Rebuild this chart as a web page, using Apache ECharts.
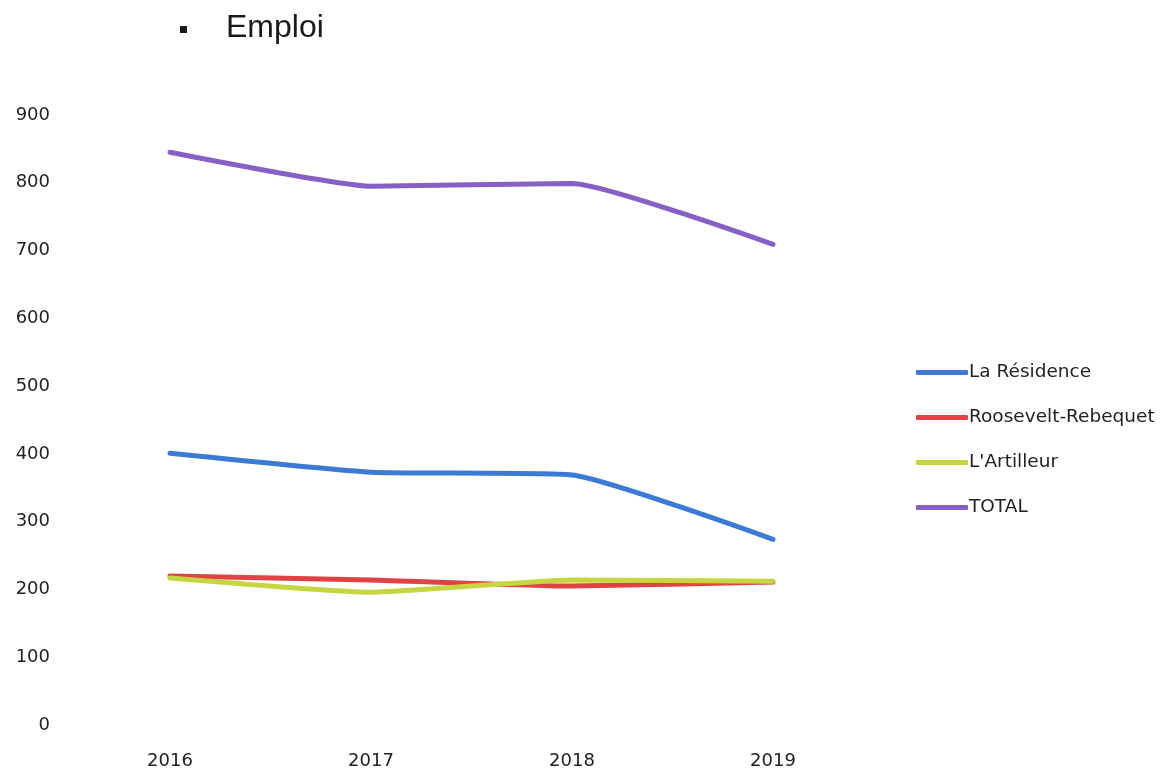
<!DOCTYPE html>
<html><head><meta charset="utf-8">
<script src="https://cdn.jsdelivr.net/npm/echarts@6/dist/echarts.min.js"></script>
<style>html,body{margin:0;padding:0;background:#fff}#c{width:1173px;height:770px}</style>
</head><body><div id="c"></div>
<script>
const years = ['2016','2017','2018','2019'];
const laResidence = [401, 373, 369, 274];
const roosevelt = [220, 214, 205, 211];
const artilleur = [217, 196, 214, 212];
const total = [845, 795, 799, 709];
const yTicks = [0, 100, 200, 300, 400, 500, 600, 700, 800, 900];

const font = '"DejaVu Sans", sans-serif';
const mk = (name, data, color) => ({
  name, type: 'line', data, smooth: 0.15, symbol: 'none',
  lineStyle: { width: 5, color, cap: 'round' }, itemStyle: { color }
});
const chart = echarts.init(document.getElementById('c'));
chart.setOption({
  animation: false,
  graphic: [
    { type: 'rect', left: 180, top: 26, shape: { width: 7, height: 7 }, style: { fill: '#1a1a1a' } },
    { type: 'text', left: 226, top: 12, style: { text: 'Emploi', font: '32px "Liberation Sans", Arial, sans-serif', fill: '#1a1a1a' } }
  ],
  grid: { left: 170, right: 400, top: 115, bottom: 45 },
  xAxis: {
    type: 'category', data: years, boundaryGap: false,
    axisLine: { show: false }, axisTick: { show: false },
    axisLabel: { color: '#222', fontSize: 18, fontFamily: font, margin: 27 }
  },
  yAxis: {
    type: 'value', min: 0, max: 900, interval: 100,
    splitLine: { show: false }, axisLine: { show: false }, axisTick: { show: false },
    axisLabel: { color: '#222', fontSize: 18, fontFamily: font, margin: 0,
      formatter: v => yTicks.includes(v) ? String(v) : '' },
    offset: 120
  },
  legend: {
    orient: 'vertical', left: 911, top: 358, itemGap: 26,
    icon: 'roundRect', itemWidth: 52, itemHeight: 5,
    textStyle: { color: '#222', fontSize: 18.5, fontFamily: font, padding: [0, 0, 0, -4], lineHeight: 19 },
    data: ['La Résidence', 'Roosevelt-Rebequet', "L'Artilleur", 'TOTAL']
  },
  series: [
    mk('La Résidence', laResidence, '#3b7bd6'),
    mk('Roosevelt-Rebequet', roosevelt, '#e04343'),
    mk("L'Artilleur", artilleur, '#c5d640'),
    mk('TOTAL', total, '#8660c4')
  ]
});
</script></body></html>
